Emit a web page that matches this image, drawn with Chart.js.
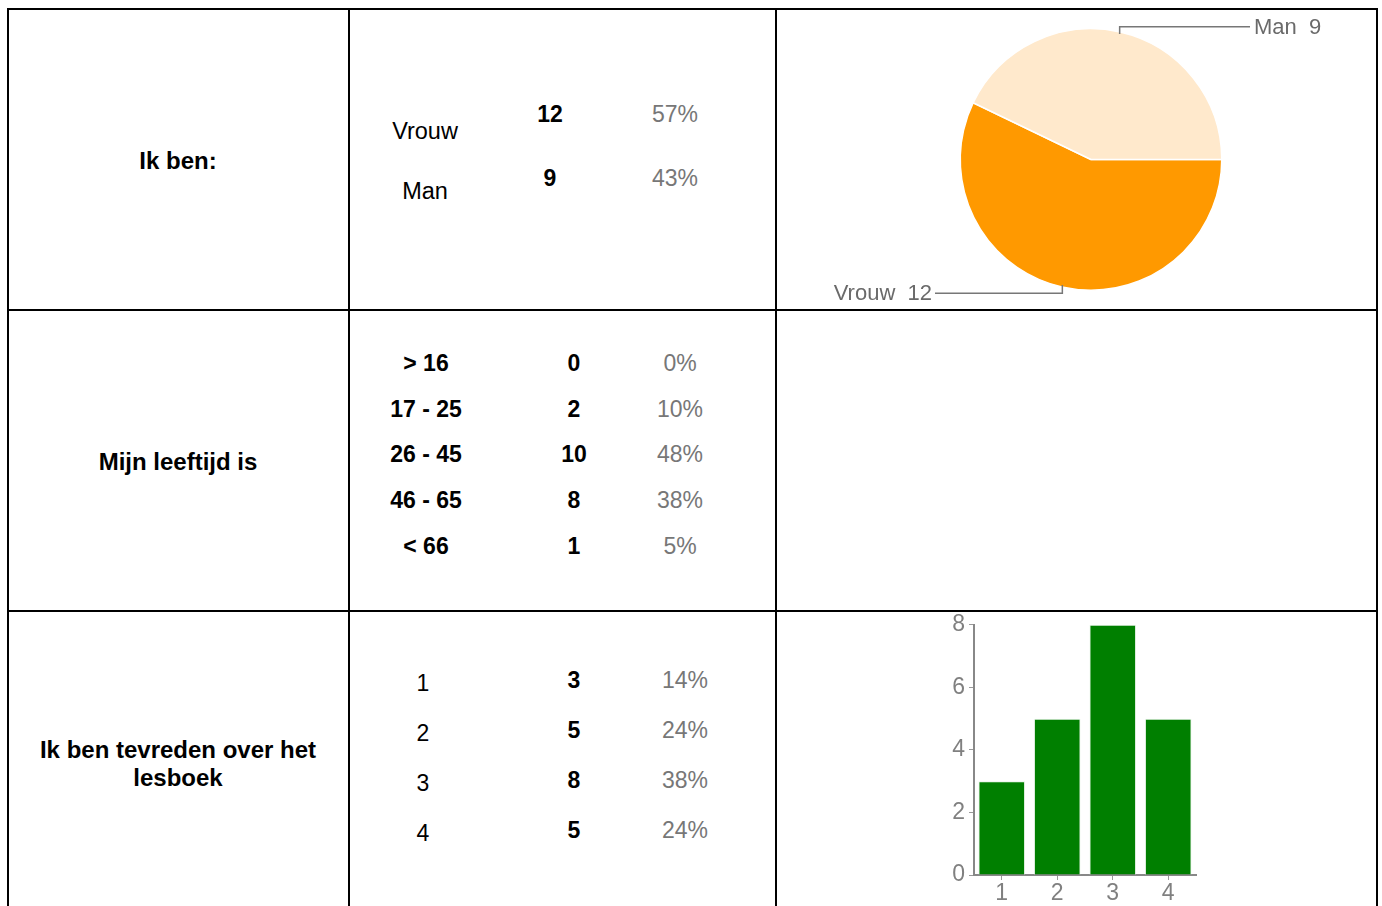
<!DOCTYPE html>
<html>
<head>
<meta charset="utf-8">
<script src="https://cdn.jsdelivr.net/npm/chart.js@4.4.1/dist/chart.umd.min.js"></script>
<style>
  html, body { margin: 0; padding: 0; background: #fff; width: 1382px; height: 906px; overflow: hidden; }
  body { position: relative; font-family: "Liberation Sans", Arial, sans-serif; }
  .ln { position: absolute; background: #000; }
  .t { position: absolute; transform: translate(-50%, -50%); white-space: nowrap; font-size: 23px; color: #000; line-height: 1; }
  .b { font-weight: bold; }
  .q { font-size: 24px; }
  .p { color: #777; }
  canvas { position: absolute; }
</style>
</head>
<body>
<div id="grid"></div>
<div id="texts"></div>
<canvas id="pie" width="599" height="298" style="left:777px;top:11px;width:599px;height:298px;"></canvas>
<canvas id="bar" width="282" height="299" style="left:934px;top:607px;width:282px;height:299px;"></canvas>
<script>
// ---- data ----
const questions = ["Ik ben:", "Mijn leeftijd is", "Ik ben tevreden over het<br>lesboek"];
const genderLabels = ["Vrouw", "Man"];
const genderCounts = [12, 9];
const genderPct = ["57%", "43%"];
const ageLabels = ["> 16", "17 - 25", "26 - 45", "46 - 65", "< 66"];
const ageCounts = [0, 2, 10, 8, 1];
const agePct = ["0%", "10%", "48%", "38%", "5%"];
const ratingLabels = ["1", "2", "3", "4"];
const ratingCounts = [3, 5, 8, 5];
const ratingPct = ["14%", "24%", "38%", "24%"];
const yTicks = [0, 2, 4, 6, 8];

Chart.defaults.font.family = '"Liberation Sans", Arial, sans-serif';
Chart.defaults.font.size = 22;

// ---- table lines ----
const grid = document.getElementById('grid');
function line(x, y, w, h) {
  const d = document.createElement('div');
  d.className = 'ln';
  d.style.left = x + 'px'; d.style.top = y + 'px';
  d.style.width = w + 'px'; d.style.height = h + 'px';
  grid.appendChild(d);
}
line(7, 8, 1371, 2);      // top
line(7, 8, 2, 898);       // left
line(348, 8, 2, 898);     // col 1
line(775, 8, 2, 898);     // col 2
line(1376, 8, 2, 898);    // right
line(7, 309, 1371, 2);    // row 1
line(7, 610, 1371, 2);    // row 2

// ---- texts ----
const texts = document.getElementById('texts');
function txt(s, x, y, cls) {
  const d = document.createElement('div');
  d.className = 't ' + (cls || '');
  d.style.left = x + 'px'; d.style.top = y + 'px';
  d.innerHTML = s;
  texts.appendChild(d);
  return d;
}
txt(questions[0], 178, 161, 'b q');
txt(questions[1], 178, 462, 'b q');
const q3 = txt(questions[2], 178, 764, 'b q');
q3.style.textAlign = 'center';
q3.style.lineHeight = '28px';

// row 1
const r1LabelY = [132, 192], r1ValY = [114, 178];
genderLabels.forEach((l, i) => {
  txt(l, 425, r1LabelY[i], 'r');
  txt(String(genderCounts[i]), 550, r1ValY[i], 'b');
  txt(genderPct[i], 675, r1ValY[i], 'p');
});
// row 2
ageLabels.forEach((l, i) => {
  const y = 363 + i * 45.7;
  txt(l.replace('<', '&lt;').replace('>', '&gt;'), 426, y, 'b');
  txt(String(ageCounts[i]), 574, y, 'b');
  txt(agePct[i], 680, y, 'p');
});
// row 3
ratingLabels.forEach((l, i) => {
  const y = 680 + i * 50;
  txt(l, 423, y + 3, '');
  txt(String(ratingCounts[i]), 574, y, 'b');
  txt(ratingPct[i], 685, y, 'p');
});
document.querySelectorAll('.t.r').forEach(e => e.style.fontSize = '23.5px');

// ---- pie chart ----
const leaderPlugin = {
  id: 'leader',
  afterDatasetsDraw(chart) {
    const ctx = chart.ctx;
    const meta = chart.getDatasetMeta(0);
    ctx.save();
    ctx.strokeStyle = '#777';
    ctx.lineWidth = 1.5;
    ctx.fillStyle = '#6a6a6a';
    ctx.font = '22px "Liberation Sans", Arial, sans-serif';
    ctx.textBaseline = 'middle';
    meta.data.forEach((arc, i) => {
      const p = arc.getProps(['x', 'y', 'startAngle', 'endAngle', 'outerRadius'], true);
      const mid = (p.startAngle + p.endAngle) / 2;
      const ax = p.x + Math.cos(mid) * (p.outerRadius - 2);
      const ay = p.y + Math.sin(mid) * (p.outerRadius - 2);
      const up = ay < p.y;
      const ly = up ? p.y - p.outerRadius - 2 : p.y + p.outerRadius + 3;
      const right = up;
      const ex = right ? p.x + 159 : p.x - 156;
      ctx.beginPath();
      ctx.moveTo(ax, ay);
      ctx.lineTo(ax, ly);
      ctx.lineTo(ex, ly);
      ctx.stroke();
      const label = chart.data.labels[i] + '  ' + chart.data.datasets[0].data[i];
      ctx.textAlign = right ? 'left' : 'right';
      ctx.fillText(label, right ? ex + 4 : ex - 3, ly + 1);
    });
    ctx.restore();
  }
};

new Chart(document.getElementById('pie'), {
  type: 'pie',
  data: {
    labels: genderLabels,
    datasets: [{
      data: genderCounts,
      backgroundColor: ['#ff9900', '#ffe9cc'],
      borderColor: '#ffffff',
      borderWidth: 1.5
    }]
  },
  options: {
    responsive: false,
    animation: false,
    rotation: 90,
    layout: { padding: { left: 29, right: 0, top: 17, bottom: 18 } },
    plugins: { legend: { display: false }, tooltip: { enabled: false } }
  },
  plugins: [leaderPlugin]
});

// ---- bar chart ----
const tickFont = { size: 23, family: '"Liberation Sans", Arial, sans-serif' };
new Chart(document.getElementById('bar'), {
  type: 'bar',
  data: {
    labels: ratingLabels,
    datasets: [{
      data: ratingCounts,
      backgroundColor: '#007f00',
      borderColor: '#e8f4e8',
      borderWidth: 1,
      categoryPercentage: 0.84,
      barPercentage: 1.0
    }]
  },
  options: {
    responsive: false,
    animation: false,
    layout: { padding: { left: 0, right: 20, top: 0, bottom: 0 } },
    plugins: { legend: { display: false }, tooltip: { enabled: false } },
    scales: {
      x: {
        afterFit(axis) { axis.height = 31; },
        grid: { drawOnChartArea: false, drawTicks: true, tickLength: 5, offset: false, color: '#999', lineWidth: 1 },
        border: { color: '#888', width: 2 },
        ticks: { color: '#808080', font: tickFont, padding: 0 }
      },
      y: {
        min: 0, max: 8,
        afterFit(axis) { axis.width = 40; },
        afterBuildTicks(axis) { axis.ticks = yTicks.map(v => ({ value: v })); },
        grid: { drawOnChartArea: false, drawTicks: true, tickLength: 5, color: '#999', lineWidth: 1 },
        border: { color: '#888', width: 2 },
        ticks: { color: '#808080', font: tickFont, padding: 4 }
      }
    }
  }
});
</script>
</body>
</html>
